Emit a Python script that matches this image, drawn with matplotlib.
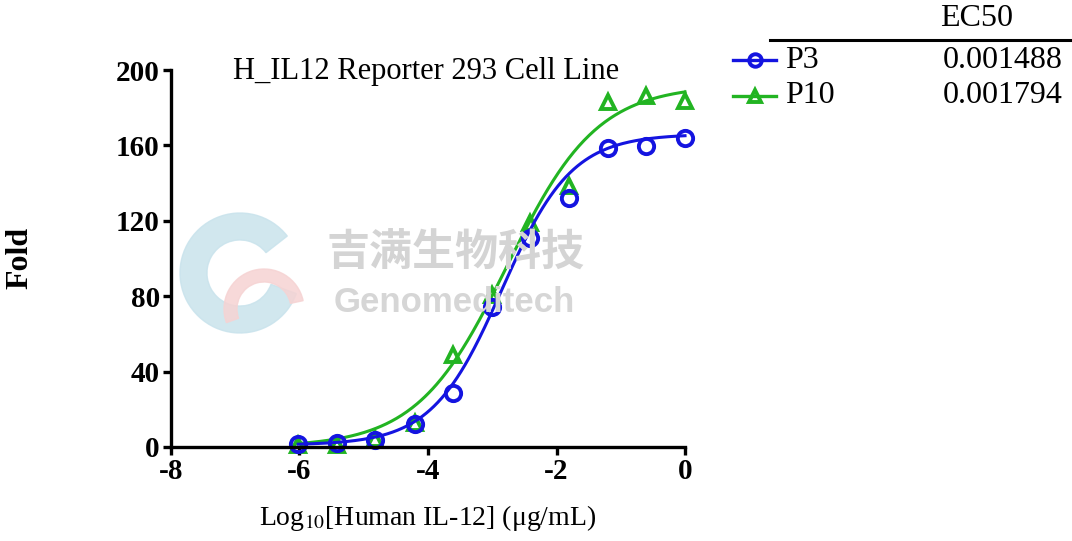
import numpy as np
import matplotlib
matplotlib.use('Agg')
import matplotlib.pyplot as plt
from matplotlib.lines import Line2D
from matplotlib.patches import Wedge

plt.rcParams['font.family'] = ['Liberation Serif', 'DejaVu Serif']
plt.rcParams['mathtext.fontset'] = 'stix'
plt.rcParams['axes.unicode_minus'] = False

# log10 concentration (4-fold dilutions) and fold response
log_conc = [-6.02, -5.42, -4.82, -4.21, -3.61, -3.01, -2.41, -1.81, -1.20, -0.60, 0.0]
p3 = [1.8, 2.1, 3.6, 12.4, 28.8, 74.3, 111.0, 131.9, 158.4, 159.8, 163.7]
p10 = [0.8, 1.0, 4.0, 12.5, 48.8, 80.6, 118.7, 138.6, 183.2, 186.2, 183.7]

names = ['P3', 'P10']
ec50 = ['0.001488', '0.001794']

# 4PL fit parameters (bottom, top, logEC50, hill)
fit_p3 = (1.0, 166.0, -2.85, 0.80)
fit_p10 = (0.0, 192.0, -2.77, 0.62)

xticks = [-8, -6, -4, -2, 0]
yticks = [0, 40, 80, 120, 160, 200]

blue = '#1414e0'
green = '#22b422'


def four_pl(x, bottom, top, logec, hill):
    return bottom + (top - bottom) / (1 + 10 ** ((logec - x) * hill))


fig = plt.figure(figsize=(10.72, 5.41), dpi=100)
ax = fig.add_axes([0.1595, 0.1738, 0.4795, 0.6968])

# watermark behind the plot (logo + company name)
fig.add_artist(Wedge((2.40, 2.68), 0.60, 38, 340, width=0.27,
                     transform=fig.dpi_scale_trans, color='#c9e3ec', alpha=0.85, zorder=0))
fig.add_artist(Wedge((2.64, 2.32), 0.40, 12, 200, width=0.13,
                     transform=fig.dpi_scale_trans, color='#f6d3d3', alpha=0.85, zorder=0))
fig.text(0.425, 0.535, '吉满生物科技', family=['Noto Sans CJK SC', 'DejaVu Sans'],
         fontsize=31, fontweight='bold', color='#d4d4d4', ha='center', va='center', zorder=0)
fig.text(0.424, 0.44, 'Genomeditech', family=['Liberation Sans', 'DejaVu Sans'],
         fontsize=25, fontweight='bold', color='#d6d6d6', ha='center', va='center', zorder=0)
ax.patch.set_alpha(0)

xs = np.linspace(min(log_conc), max(log_conc), 300)
series = [(p3, fit_p3, blue, 'o', 11), (p10, fit_p10, green, '^', 10.5)]
for ys, fit, col, mk, sz in series[::-1]:
    ax.plot(xs, four_pl(xs, *fit), color=col, lw=2.2, clip_on=False)
    ax.plot(log_conc, ys, linestyle='none', marker=mk, ms=sz, mew=2.8,
            mfc='none', mec=col, clip_on=False)

ax.set_xlim(-8, 0)
ax.set_ylim(0, 200)
ax.set_xticks(xticks)
ax.set_yticks(yticks)
ax.set_xticklabels([str(t) for t in xticks])
for sp in ['top', 'right']:
    ax.spines[sp].set_visible(False)
for sp in ['left', 'bottom']:
    ax.spines[sp].set_linewidth(2.4)
ax.tick_params(width=2.4, length=6, labelsize=21, pad=2)
for lab in ax.get_xticklabels() + ax.get_yticklabels():
    lab.set_fontweight('bold')

fig.text(0.397, 0.867, 'H_IL12 Reporter 293 Cell Line', fontsize=22,
         ha='center', va='center')
fig.text(0.399, 0.043, 'Log$_{10}$[Human IL-12] (μg/mL)', fontsize=20,
         ha='center', va='center')
fig.text(0.019, 0.523, 'Fold', rotation=90, fontsize=23, fontweight='bold',
         ha='center', va='center')

# EC50 table legend
fig.text(0.911, 0.965, 'EC50', fontsize=23, ha='center', va='center')
fig.add_artist(Line2D([0.718, 1.0], [0.926, 0.926], color='black', lw=2.2,
                      transform=fig.transFigure))
rows_y = [0.889, 0.823]
for (ys, fit, col, mk, sz), name, val, yy in zip(series, names, ec50, rows_y):
    fig.add_artist(Line2D([0.684, 0.704, 0.724], [yy, yy, yy], color=col, lw=2.4,
                          marker=mk, markevery=[1], ms=9, mew=2.8, mfc='none', mec=col,
                          transform=fig.transFigure))
    fig.text(0.732, yy, name, fontsize=23, ha='left', va='center')
    fig.text(0.991, yy, val, fontsize=23, ha='right', va='center')

fig.savefig('out.png', dpi=100)
